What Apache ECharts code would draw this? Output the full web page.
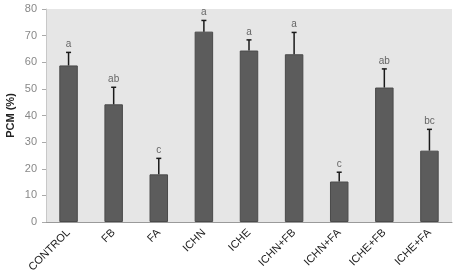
<!DOCTYPE html>
<html>
<head>
<meta charset="utf-8">
<script src="https://cdn.jsdelivr.net/npm/echarts@6/dist/echarts.min.js"></script>
<style>
html,body{margin:0;padding:0;background:#fff;}
#c{width:458px;height:271px;}
</style>
</head>
<body>
<div id="c"></div>
<script>
var categories = ['CONTROL','FB','FA','ICHN','ICHE','ICHN+FB','ICHN+FA','ICHE+FB','ICHE+FA'];
var means = [58.8, 44.2, 17.9, 71.5, 64.4, 63.0, 15.2, 50.5, 26.8];
var errors = [4.9, 6.4, 6.0, 4.2, 4.0, 8.2, 3.5, 7.0, 8.0];
var letters = ['a','ab','c','a','a','a','c','ab','bc'];
var yTicks = [0,10,20,30,40,50,60,70,80];

var chart = echarts.init(document.getElementById('c'), null, {renderer:'canvas'});
var errData = means.map(function(m,i){ return [i, m, errors[i], letters[i]]; });

chart.setOption({
  animation:false,
  grid:{left:46, right:6, top:9, bottom:49, show:true, backgroundColor:'#e6e6e6', borderWidth:0,
    containLabel:false, outerBoundsMode:'none'},
  xAxis:{
    type:'category', data:categories,
    axisLine:{show:true, lineStyle:{color:'#9a9a9a', width:1}},
    axisTick:{show:false},
    axisLabel:{rotate:45, interval:0, fontSize:11, color:'#222', margin:9,
      fontFamily:'"Liberation Sans Narrow","Arial Narrow","Liberation Sans",sans-serif'}
  },
  yAxis:{
    type:'value', min:0, max:80, interval:10,
    name:'PCM (%)', nameLocation:'middle', nameGap:30, nameMoveOverlap:false,
    nameTextStyle:{fontSize:11, fontWeight:'bold', color:'#222', fontFamily:'"Liberation Sans",Arial,sans-serif'},
    axisLine:{show:true, lineStyle:{color:'#c8c8c8'}},
    axisTick:{show:true, length:4, lineStyle:{color:'#aaa'}},
    axisLabel:{fontSize:11, color:'#888', margin:9, fontFamily:'"Liberation Sans",Arial,sans-serif',
      formatter:function(v){ return yTicks.indexOf(v)>=0 ? String(v) : ''; }},
    splitLine:{show:false}
  },
  series:[
    {
      type:'bar', data:means, barWidth:'41%',
      itemStyle:{color:'#5c5c5c', borderColor:'#4a4a4a', borderWidth:1},
      z:2
    },
    {
      type:'custom', data:errData, z:5,
      encode:{x:0, y:1},
      renderItem:function(params, api){
        var i = api.value(0), m = api.value(1), e = api.value(2);
        var base = api.coord([i, m]);
        var top = api.coord([i, m+e]);
        var lbl = letters[params.dataIndex];
        return {type:'group', children:[
          {type:'line', shape:{x1:base[0], y1:base[1], x2:top[0], y2:top[1]}, style:{stroke:'#1a1a1a', lineWidth:1.5}},
          {type:'line', shape:{x1:top[0]-2.5, y1:top[1], x2:top[0]+2.5, y2:top[1]}, style:{stroke:'#1a1a1a', lineWidth:1.5}},
          {type:'text', style:{x:top[0], y:top[1]-3, text:lbl, textAlign:'center', textVerticalAlign:'bottom',
            fontSize:10, fill:'#666', fontFamily:'"Liberation Sans",Arial,sans-serif'}}
        ]};
      }
    }
  ]
});
</script>
</body>
</html>
